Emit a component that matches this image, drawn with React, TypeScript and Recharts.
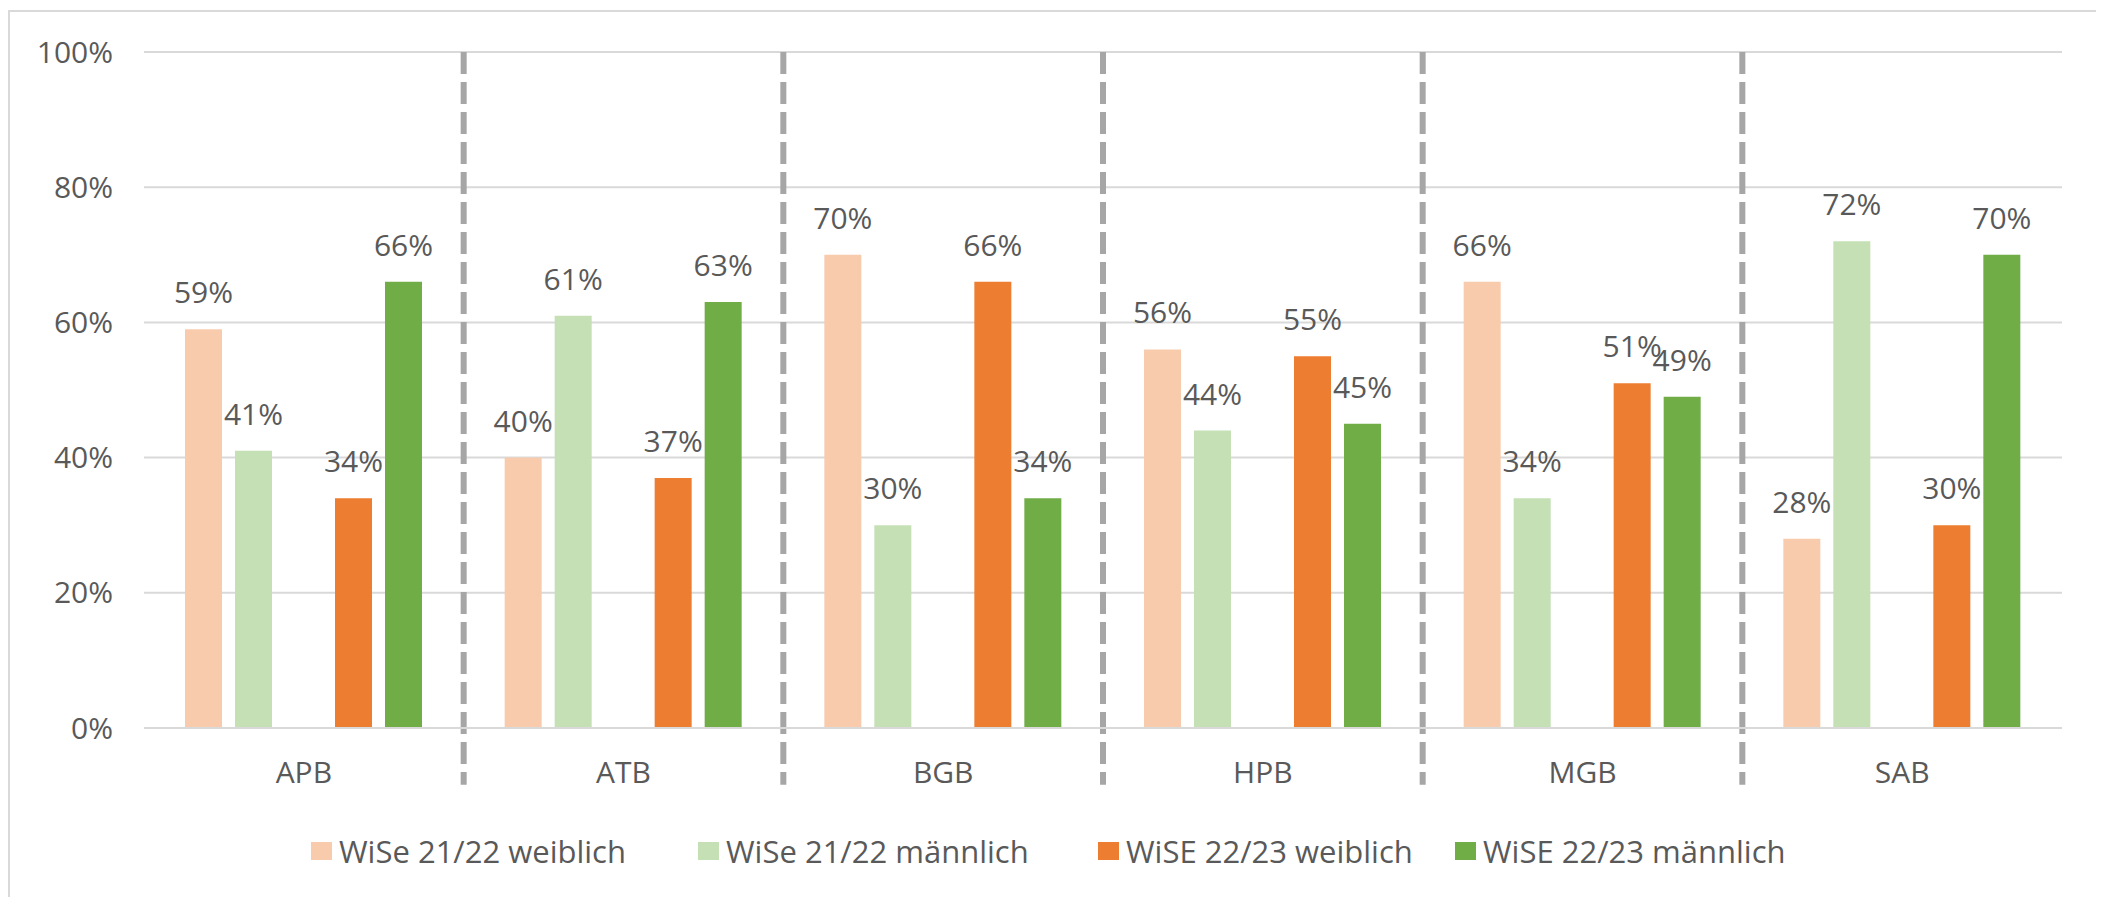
import {
  BarChart,
  Bar,
  XAxis,
  YAxis,
  CartesianGrid,
  LabelList,
  Legend,
  ReferenceLine,
} from "recharts";

const categories = ["APB", "ATB", "BGB", "HPB", "MGB", "SAB"];
const wise2122Weiblich = [59, 40, 70, 56, 66, 28];
const wise2122Maennlich = [41, 61, 30, 44, 34, 72];
const wise2223Weiblich = [34, 37, 66, 55, 51, 30];
const wise2223Maennlich = [66, 63, 34, 45, 49, 70];
const yTicks = [0, 20, 40, 60, 80, 100];

const series = [
  { key: "w2122", name: "WiSe 21/22 weiblich", color: "#F8CBAD" },
  { key: "m2122", name: "WiSe 21/22 männlich", color: "#C5E0B4" },
  { key: "w2223", name: "WiSE 22/23 weiblich", color: "#ED7D31" },
  { key: "m2223", name: "WiSE 22/23 männlich", color: "#70AD47" },
];

const data = categories.map((c, i) => ({
  name: c,
  w2122: wise2122Weiblich[i],
  m2122: wise2122Maennlich[i],
  gap: null,
  w2223: wise2223Weiblich[i],
  m2223: wise2223Maennlich[i],
}));

// a dashed separator sits at the start of every group except the first
const separators = categories.slice(1);

const TEXT = "#595959";
const GRID = "#d9d9d9";

const fmt = (v: number) => `${v}%`;

// left edge of each legend swatch, in chart pixels
const legendX = [301, 688, 1088, 1445];

const LegendContent = () => (
  <div style={{ position: "relative", height: 36 }}>
    {series.map((s, i) => (
      <div
        key={s.key}
        style={{ position: "absolute", left: legendX[i], top: 0, height: 36, display: "flex", alignItems: "center" }}
      >
        <span style={{ width: 21, height: 18, background: s.color, marginRight: 7, display: "inline-block" }} />
        <span style={{ fontSize: 31, color: TEXT, whiteSpace: "nowrap" }}>{s.name}</span>
      </div>
    ))}
  </div>
);

export default function App() {
  return (
    <div
      style={{
        position: "relative",
        top: 2,
        width: 2095,
        height: 889,
        boxSizing: "border-box",
        borderTop: `2px solid ${GRID}`,
        borderLeft: `2px solid ${GRID}`,
        borderRight: `2px solid ${GRID}`,
        background: "#fff",
        fontFamily: "'Open Sans', sans-serif",
      }}
    >
      <BarChart
        width={2091}
        height={887}
        data={data}
        margin={{ top: 40, right: 39, left: 0, bottom: 101 }}
        barCategoryGap={41}
        barGap={13}
      >
        <CartesianGrid vertical={false} stroke={GRID} strokeWidth={2} />
        <XAxis
          dataKey="name"
          height={70}
          tickLine={false}
          axisLine={{ stroke: GRID, strokeWidth: 2 }}
          tickMargin={28}
          tick={{ fontSize: 30, fill: TEXT }}
        />
        <YAxis
          width={134}
          domain={[0, 100]}
          ticks={yTicks}
          tickFormatter={fmt}
          axisLine={false}
          tickLine={false}
          tickMargin={25}
          tick={{ fontSize: 30, fill: TEXT }}
        />
        {separators.map((c) => (
          <ReferenceLine
            key={c}
            segment={[
              { x: c, y: 100 },
              { x: c, y: -8.4 },
            ]}
            position="start"
            ifOverflow="visible"
            stroke="#a6a6a6"
            strokeWidth={6}
            strokeDasharray="22 8"
          />
        ))}
        <Legend
          layout="vertical"
          align="center"
          verticalAlign="middle"
          wrapperStyle={{ top: 821, left: 0, width: 2091 }}
          content={<LegendContent />}
        />
        {series.slice(0, 2).map((s) => (
          <Bar key={s.key} dataKey={s.key} name={s.name} fill={s.color} isAnimationActive={false}>
            <LabelList dataKey={s.key} position="top" offset={26} formatter={fmt} fill={TEXT} fontSize={30} />
          </Bar>
        ))}
        <Bar dataKey="gap" legendType="none" fill="none" isAnimationActive={false} />
        {series.slice(2).map((s) => (
          <Bar key={s.key} dataKey={s.key} name={s.name} fill={s.color} isAnimationActive={false}>
            <LabelList dataKey={s.key} position="top" offset={26} formatter={fmt} fill={TEXT} fontSize={30} />
          </Bar>
        ))}
      </BarChart>
    </div>
  );
}
